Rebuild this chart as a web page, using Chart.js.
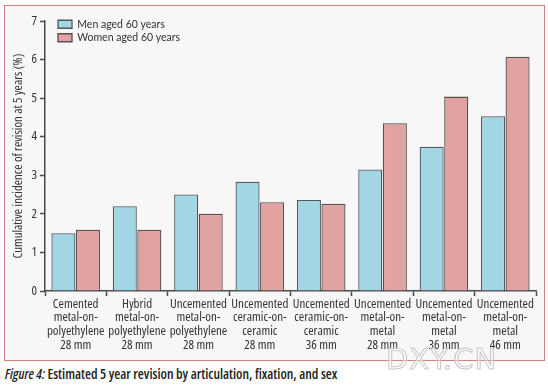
<!DOCTYPE html>
<html>
<head>
<meta charset="utf-8">
<script src="https://cdn.jsdelivr.net/npm/chart.js@4"></script>
<style>
    body { margin: 0; background: #fff; width: 548px; height: 385px; position: relative; overflow: hidden; }
    #frame { position: absolute; left: 4px; top: 5px; width: 539px; height: 354px; background: #f7f7f7; border: 1px solid #d38080; }
    #chartBox { position: absolute; left: 0; top: 0; width: 548px; height: 362px; }
    #caption { position: absolute; left: 5px; top: 364px; font-family: "Open Sans", sans-serif; font-stretch: condensed; font-weight: 600; font-size: 13.8px; color: #222; white-space: nowrap; }
    #caption i { font-style: italic; }
    #mark { position: absolute; left: 386px; top: 342px; font-family: "DejaVu Sans", sans-serif; font-size: 29px; color: rgba(255,255,255,0.4); -webkit-text-stroke: 1px #c8c8c8; letter-spacing: 1px; }
</style>
</head>
<body>
<div id="frame"></div>
<div id="chartBox"><canvas id="revisionChart" width="548" height="362"></canvas></div>
<div id="caption"><i>Figure 4:</i> Estimated 5 year revision by articulation, fixation, and sex</div>
<div id="mark">DXY.CN</div>
<script>
const categories = [
    ['Cemented', 'metal-on-', 'polyethylene', '28 mm'],
    ['Hybrid', 'metal-on-', 'polyethylene', '28 mm'],
    ['Uncemented', 'metal-on-', 'polyethylene', '28 mm'],
    ['Uncemented', 'ceramic-on-', 'ceramic', '28 mm'],
    ['Uncemented', 'ceramic-on-', 'ceramic', '36 mm'],
    ['Uncemented', 'metal-on-', 'metal', '28 mm'],
    ['Uncemented', 'metal-on-', 'metal', '36 mm'],
    ['Uncemented', 'metal-on-', 'metal', '46 mm'],
];
const menValues = [1.5, 2.2, 2.5, 2.83, 2.36, 3.15, 3.74, 4.53];
const womenValues = [1.59, 1.59, 2.0, 2.3, 2.26, 4.35, 5.04, 6.07];
const seriesLabels = ['Men aged 60 years', 'Women aged 60 years'];
const yTicks = [0, 1, 2, 3, 4, 5, 6, 7];
const yTitle = 'Cumulative incidence of revision at 5 years (%)';

// the width keyword goes in the weight slot so the canvas font shorthand picks a narrow Open Sans
const FONT = '"Open Sans", sans-serif';
const NARROW = 'condensed';
const AXIS = '#4a4a4a';

const ctx = document.getElementById('revisionChart').getContext('2d');
const chart = new Chart(ctx, {
    type: 'bar',
    data: {
        labels: categories,
        datasets: [
            {
                label: seriesLabels[0],
                data: menValues,
                backgroundColor: '#a2d6e4',
                borderColor: '#4f5a5e',
                borderWidth: 1.3,
                borderSkipped: 'bottom',
            },
            {
                label: seriesLabels[1],
                data: womenValues,
                backgroundColor: '#e0a3a2',
                borderColor: '#5a4c4c',
                borderWidth: 1.3,
                borderSkipped: 'bottom',
            },
        ],
    },
    options: {
        responsive: false,
        animation: false,
        categoryPercentage: 0.8,
        barPercentage: 0.98,
        layout: { padding: { left: 8, right: 12, top: 21, bottom: 0 } },
        plugins: {
            tooltip: { enabled: false },
            legend: {
                position: 'chartArea',
                align: 'start',
                labels: {
                    boxWidth: 14,
                    boxHeight: 8,
                    padding: 3,
                    color: '#333',
                    font: { family: 'Lato, sans-serif', size: 10.5 },
                },
            },
        },
        scales: {
            x: {
                grid: {
                    display: true,
                    drawOnChartArea: false,
                    drawTicks: true,
                    tickLength: 5,
                    tickWidth: 1.5,
                    tickColor: AXIS,
                    offset: true,
                },
                border: { color: AXIS, width: 1.5 },
                ticks: {
                    maxRotation: 0,
                    autoSkip: false,
                    padding: 1,
                    color: '#333',
                    font: { family: FONT, weight: NARROW, size: 13, lineHeight: 1.06 },
                },
                afterFit: (scale) => { scale.height = 71; },
            },
            y: {
                min: 0,
                max: 7,
                afterBuildTicks: (scale) => { scale.ticks = yTicks.map((v) => ({ value: v })); },
                grid: {
                    drawOnChartArea: false,
                    drawTicks: true,
                    tickLength: 5,
                    tickWidth: 1.5,
                    tickColor: AXIS,
                },
                border: { color: AXIS, width: 1.5 },
                ticks: {
                    padding: 3,
                    color: '#333',
                    font: { family: FONT, weight: NARROW, size: 13 },
                },
                title: {
                    display: true,
                    text: yTitle,
                    color: '#333',
                    font: { family: FONT, weight: NARROW, size: 12.8 },
                    padding: { top: 3, bottom: 3 },
                },
                afterFit: (scale) => { scale.width = 37; },
            },
        },
    },
});

// nudge the in-plot legend down and right, where the original puts it
const legendDraw = chart.legend.draw.bind(chart.legend);
chart.legend.draw = (area) => {
    ctx.save();
    ctx.translate(10, 16);
    legendDraw(area);
    ctx.restore();
};
chart.draw();
</script>
</body>
</html>
